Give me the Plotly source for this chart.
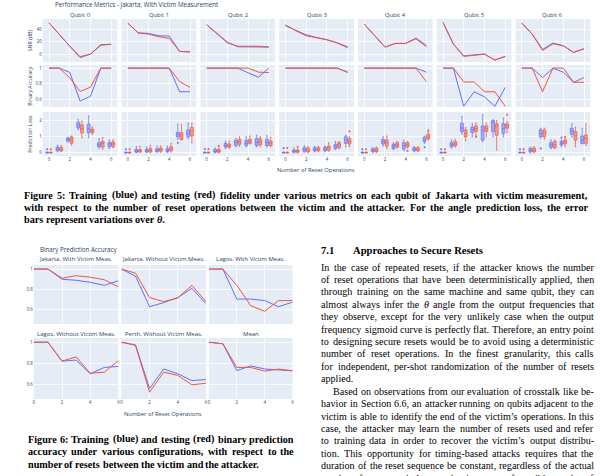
import plotly.graph_objects as go

# ---------------- DATA ----------------
resets = [0, 1, 2, 3, 4, 5, 6]
qubits = ["Qubit 0", "Qubit 1", "Qubit 2", "Qubit 3", "Qubit 4", "Qubit 5", "Qubit 6"]

snr_train = [
    [50, 31, 13, -5, 0.5, 15.5, 16],
    [49.5, 34.2, 33.2, 29.5, 29, 4.7, 4.2],
    [47, 32, 18.4, 12.8, 12.8, 13, 11.6],
    [45.3, 38.4, 31, 26.8, 23.2, 18, 10.5],
    [48, 30.5, 11.6, 17.4, 17.4, 25.8, 14.2],
    [50.5, 16.3, -2.1, -1, 0.5, -8.9, -3.2],
    [49.5, 32, 7.9, 17.9, 13.7, 3.2, 8.9],
]
snr_test = [
    [50, 31, 13, -3.5, 0.5, 14.5, 16],
    [49.5, 33.7, 32, 28, 25.3, 4.7, 3.7],
    [47, 33, 19.5, 12, 12, 12, 11.6],
    [46.8, 37.4, 29.5, 26.3, 23.2, 18.4, 12],
    [48, 30.5, 11.6, 17.4, 17.4, 24.7, 12],
    [50.5, 16.3, -3.2, -1, 0.5, -8.9, -3.2],
    [49.5, 32, 6.3, 16.8, 13.7, 3.2, 8.9],
]
acc_train = [
    [1, 1, 0.945, 0.577, 0.637, 1, 1],
    [1, 1, 1, 1, 1, 0.696, 0.696],
    [1, 1, 1, 1, 0.94, 0.883, 1],
    [1, 1, 1, 1, 1, 1, 0.95],
    [1, 1, 1, 1, 1, 1, 0.948],
    [1, 1, 0.51, 0.696, 0.63, 0.51, 0.752],
    [1, 1, 0.878, 1, 0.948, 0.817, 0.878],
]
acc_test = [
    [1, 1, 0.875, 0.70, 0.755, 1, 1],
    [1, 1, 1, 1, 1, 0.826, 0.752],
    [1, 1, 1, 1, 1, 0.948, 0.943],
    [1, 1, 1, 1, 1, 1, 0.943],
    [1, 1, 1, 1, 1, 1, 0.826],
    [1, 1, 0.822, 0.822, 0.696, 0.696, 0.51],
    [1, 1, 0.696, 1, 1, 0.817, 0.817],
]

# prediction loss box statistics (train = blue)
loss_train_q1 = [
    [0, 0.13, 0.72, 1.55, 1.25, 0.38, 0.38],
    [0, 0.04, 0.06, 0.08, 0.08, 1.0, 1.0],
    [0, 0.04, 0.36, 0.46, 0.46, 0.46, 0.46],
    [0, 0.04, 0.1, 0.13, 0.13, 0.27, 0.59],
    [0, 0.08, 0.55, 0.27, 0.23, 0.13, 0.7],
    [0, 0.38, 1.33, 1.26, 0.8, 1.33, 1.22],
    [0, 0.06, 1.0, 0.34, 0.48, 1.16, 0.59],
]
loss_train_med = [
    [0, 0.22, 0.82, 1.75, 1.5, 0.5, 0.55],
    [0, 0.1, 0.12, 0.15, 0.15, 1.15, 1.2],
    [0, 0.1, 0.45, 0.65, 0.6, 0.65, 0.65],
    [0, 0.1, 0.2, 0.22, 0.22, 0.4, 0.8],
    [0, 0.15, 0.7, 0.4, 0.45, 0.22, 0.82],
    [0, 0.5, 1.55, 1.45, 1.4, 1.9, 1.5],
    [0, 0.15, 1.2, 0.5, 0.6, 1.35, 0.8],
]
loss_train_q3 = [
    [0.03, 0.35, 0.92, 1.9, 1.8, 0.63, 0.63],
    [0.03, 0.21, 0.21, 0.25, 0.25, 1.28, 1.43],
    [0.03, 0.21, 0.59, 0.78, 0.78, 0.88, 0.84],
    [0.03, 0.17, 0.32, 0.32, 0.34, 0.53, 1.0],
    [0.03, 0.25, 0.84, 0.53, 0.63, 0.32, 0.97],
    [0.03, 0.63, 1.85, 1.6, 1.68, 2.02, 1.81],
    [0.03, 0.27, 1.43, 0.63, 0.7, 1.54, 1.05],
]
loss_train_lo = [
    [0, 0.05, 0.68, 1.45, 0.95, 0.28, 0.27],
    [0, 0, 0.02, 0.03, 0.03, 0.85, 0.88],
    [0, 0, 0.27, 0.38, 0.38, 0.38, 0.38],
    [0, 0, 0.04, 0.06, 0.06, 0.2, 0.38],
    [0, 0.02, 0.42, 0.2, 0.15, 0.06, 0.6],
    [0, 0.3, 1.18, 1.0, 0.7, 1.0, 1.0],
    [0, 0, 0.9, 0.25, 0.4, 1.0, 0.55],
]
loss_train_hi = [
    [0.05, 0.48, 0.95, 2.07, 2.3, 0.88, 0.8],
    [0.05, 0.38, 0.36, 0.42, 0.42, 1.8, 1.85],
    [0.05, 0.3, 0.72, 0.9, 1.0, 1.1, 1.07],
    [0.05, 0.3, 0.44, 0.4, 0.42, 0.7, 1.1],
    [0.05, 0.32, 1.0, 0.63, 0.8, 0.38, 1.05],
    [0.05, 0.8, 2.27, 1.81, 2.38, 2.06, 2.17],
    [0.05, 0.35, 1.54, 0.8, 0.8, 1.81, 1.54],
]
loss_train_out = [
    [[0.22], [], [], [], [], [], []],
    [[0.22], [], [], [], [], [0.63], []],
    [[0.24], [], [], [], [], [], []],
    [[0.3], [], [], [], [], [], []],
    [[0.22], [], [], [], [], [], [0.34]],
    [[0.22], [], [], [], [], [], []],
    [[0.22], [], [0.27], [], [0.95], [], []],
]

# prediction loss box statistics (test = red)
loss_test_q1 = [
    [0, 0.13, 0.6, 1.25, 1.25, 0.36, 0.4],
    [0, 0.06, 0.06, 0.1, 0.13, 0.84, 1.05],
    [0, 0.04, 0.34, 0.53, 0.59, 0.5, 0.46],
    [0, 0.04, 0.06, 0.13, 0.17, 0.32, 0.55],
    [0, 0.08, 0.42, 0.36, 0.38, 0.13, 0.88],
    [0, 0.44, 1.0, 1.33, 1.33, 1.1, 1.54],
    [0, 0.06, 1.0, 0.32, 0.55, 0.8, 0.59],
]
loss_test_med = [
    [0, 0.2, 0.82, 1.5, 1.38, 0.6, 0.55],
    [0, 0.12, 0.15, 0.2, 0.25, 1.05, 1.35],
    [0, 0.1, 0.45, 0.7, 0.7, 0.7, 0.6],
    [0, 0.1, 0.15, 0.22, 0.3, 0.5, 0.7],
    [0, 0.15, 0.62, 0.5, 0.5, 0.22, 1.0],
    [0, 0.55, 1.2, 1.5, 1.5, 1.68, 1.7],
    [0, 0.15, 1.25, 0.5, 0.68, 1.05, 0.9],
]
loss_test_q3 = [
    [0.03, 0.33, 0.98, 1.75, 1.48, 0.7, 0.67],
    [0.03, 0.19, 0.27, 0.3, 0.38, 1.26, 1.58],
    [0.03, 0.21, 0.55, 0.84, 0.84, 0.88, 0.74],
    [0.03, 0.17, 0.3, 0.32, 0.42, 0.63, 0.88],
    [0.03, 0.3, 0.8, 0.63, 0.63, 0.32, 1.16],
    [0.03, 0.7, 1.43, 1.68, 1.68, 1.81, 1.81],
    [0.03, 0.3, 1.43, 0.7, 0.8, 1.33, 1.12],
]
loss_test_lo = [
    [0, 0.08, 0.48, 0.93, 1.15, 0.23, 0.33],
    [0, 0.02, 0, 0.04, 0.06, 0.8, 0.63],
    [0, 0, 0.3, 0.4, 0.55, 0.38, 0.38],
    [0, 0, 0.02, 0.06, 0.1, 0.27, 0.4],
    [0, 0.02, 0.27, 0.3, 0.3, 0.06, 0.8],
    [0, 0.36, 0.76, 1.05, 1.0, 0.17, 1.26],
    [0, 0, 0.85, 0.25, 0.38, 0.38, 0.46],
]
loss_test_hi = [
    [0.05, 0.45, 1.05, 1.98, 1.62, 0.95, 0.8],
    [0.05, 0.42, 0.48, 0.42, 0.59, 1.77, 1.85],
    [0.05, 0.3, 0.72, 1.0, 1.05, 1.0, 0.97],
    [0.05, 0.25, 0.38, 0.4, 0.63, 0.7, 1.0],
    [0.05, 0.35, 1.05, 0.7, 0.7, 0.38, 1.3],
    [0.05, 0.84, 1.58, 1.85, 1.85, 2.02, 1.95],
    [0.05, 0.38, 1.54, 0.8, 0.9, 1.6, 1.81],
]
loss_test_out = [
    [[0.22], [], [], [], [], [], []],
    [[0.22], [], [], [], [], [], []],
    [[0.24], [0.42], [], [], [], [], []],
    [[0.3], [0.38], [], [], [], [], [1.33]],
    [[0.22], [], [], [], [0.13], [], [1.39]],
    [[0.22], [], [], [1.0], [], [], [2.38]],
    [[0.22], [], [], [], [1.0], [], []],
]

# Figure 6: binary prediction accuracy
configs = ["Jakarta, With Victim Meas.", "Jakarta, Without Victim Meas.", "Lagos, With Victim Meas.",
           "Lagos, Without Victim Meas.", "Perth, Without Victim Meas.", "Mean"]
bin_train = [
    [1, 1, 0.90, 0.89, 0.87, 0.84, 0.885],
    [1, 0.93, 0.63, 0.67, 0.72, 0.81, 0.66],
    [1, 1, 0.705, 0.705, 0.69, 0.63, 0.675],
    [1, 1, 0.82, 0.83, 0.70, 0.76, 0.77],
    [1, 0.975, 0.56, 0.745, 0.70, 0.635, 0.645],
    [1, 0.985, 0.73, 0.775, 0.745, 0.735, 0.728],
]
bin_test = [
    [1, 1, 0.91, 0.935, 0.92, 0.895, 0.825],
    [1, 0.96, 0.72, 0.68, 0.715, 0.84, 0.68],
    [1, 1, 0.84, 0.64, 0.585, 0.69, 0.69],
    [1, 1, 0.82, 0.86, 0.705, 0.715, 0.825],
    [1, 0.97, 0.525, 0.715, 0.685, 0.595, 0.61],
    [1, 0.985, 0.76, 0.76, 0.725, 0.745, 0.728],
]

# page text
cap5 = ["Figure 5: Training (blue) and testing (red) fidelity under various metrics on each qubit of Jakarta with victim measurement,",
        "with respect to the number of reset operations between the victim and the attacker. For the angle prediction loss, the error",
        "bars represent variations over θ."]
cap6 = ["Figure 6: Training (blue) and testing (red) binary prediction",
        "accuracy under various configurations, with respect to the",
        "number of resets between the victim and the attacker."]
heading_num = "7.1"
heading = "Approaches to Secure Resets"
body = [
    "In the case of repeated resets, if the attacker knows the number",
    "of reset operations that have been deterministically applied, then",
    "through training on the same machine and same qubit, they can",
    "almost always infer the θ angle from the output frequencies that",
    "they observe, except for the very unlikely case when the output",
    "frequency sigmoid curve is perfectly flat. Therefore, an entry point",
    "to designing secure resets would be to avoid using a deterministic",
    "number of reset operations. In the finest granularity, this calls",
    "for independent, per-shot randomization of the number of resets",
    "applied.",
    "Based on observations from our evaluation of crosstalk like be-",
    "havior in Section 6.6, an attacker running on qubits adjacent to the",
    "victim is able to identify the end of the victim’s operations. In this",
    "case, the attacker may learn the number of resets used and refer",
    "to training data in order to recover the victim’s output distribu-",
    "tion. This opportunity for timing-based attacks requires that the",
    "duration of the reset sequence be constant, regardless of the actual",
    "number of resets used. As a result, given a set of possible number of",
]

# ---------------- LAYOUT HELPERS ----------------
W, H = 600, 476
def px(x): return x / W
def py(y): return 1 - y / H

BLUE = '#636EFA'
RED = '#EF553B'
SANS = 'Open Sans'
SERIF = 'Liberation Serif'
TXT = '#2a3f5f'
TICK = 4.4

fig = go.Figure()
layout = {}
ann = []

def axnames(n):
    return ('xaxis' if n == 1 else f'xaxis{n}', 'yaxis' if n == 1 else f'yaxis{n}',
            'x' if n == 1 else f'x{n}', 'y' if n == 1 else f'y{n}')

def label(text, x, y, size, xanchor='center', angle=0, family=SANS, color=TXT):
    ann.append(dict(text=text, x=px(x), y=py(y), xanchor=xanchor, yanchor='middle', textangle=angle,
                    font=dict(size=size, color=color, family=family)))

# ---------------- FIGURE 5 ----------------
col_left0, col_pitch, col_w = 42, 79.2, 75
rows5 = [(19, 62), (65, 107), (112, 156)]
yranges5 = [[-12, 56], [0.5, 1.04], [-0.2, 2.55]]
ytick5 = [[0, 20, 40], [0.6, 0.8, 1], [0, 1, 2]]
ytext5 = [['0', '20', '40'], ['0.6', '0.8', '1'], ['0', '1', '2']]

n = 0
for r in range(3):
    for c in range(7):
        n += 1
        xa, ya, xid, yid = axnames(n)
        left = col_left0 + c * col_pitch
        layout[xa] = dict(domain=[px(left), px(left + col_w)], anchor=yid, range=[-0.6, 6.6],
                          tickvals=[0, 2, 4, 6], ticktext=['0', '2', '4', '6'], showticklabels=(r == 2),
                          gridcolor='white', gridwidth=0.8, zeroline=False, showline=False,
                          tickfont=dict(size=TICK, color=TXT, family=SANS), ticks='')
        layout[ya] = dict(domain=[py(rows5[r][1]), py(rows5[r][0])], anchor=xid, range=yranges5[r],
                          tickvals=ytick5[r], ticktext=ytext5[r], showticklabels=(c == 0),
                          gridcolor='white', gridwidth=0.8, zeroline=False, showline=False,
                          tickfont=dict(size=TICK, color=TXT, family=SANS), ticks='')
        if r < 2:
            tr, te = (snr_train, snr_test) if r == 0 else (acc_train, acc_test)
            fig.add_trace(go.Scatter(x=resets, y=tr[c], mode='lines', line=dict(color=BLUE, width=1),
                                     xaxis=xid, yaxis=yid, showlegend=False))
            fig.add_trace(go.Scatter(x=resets, y=te[c], mode='lines', line=dict(color=RED, width=1),
                                     xaxis=xid, yaxis=yid, showlegend=False))
        else:
            for (q1, med, q3, lo, hi, out, col, grp) in [
                (loss_train_q1, loss_train_med, loss_train_q3, loss_train_lo, loss_train_hi, loss_train_out, BLUE, 'tr'),
                (loss_test_q1, loss_test_med, loss_test_q3, loss_test_lo, loss_test_hi, loss_test_out, RED, 'te')]:
                fig.add_trace(go.Box(x=resets, y=out[c], q1=q1[c], median=med[c], q3=q3[c],
                                     lowerfence=lo[c], upperfence=hi[c], boxpoints='outliers',
                                     pointpos=0, jitter=0, whiskerwidth=0.5,
                                     marker=dict(color=col, size=2), line=dict(color=col, width=0.7),
                                     offsetgroup=grp, xaxis=xid, yaxis=yid, showlegend=False))
        if r == 0:
            label(qubits[c], left + col_w / 2, 15.5, 5.8)

label("Performance Metrics - Jakarta, With Victim Measurement", 54, 5, 6.2, xanchor='left')
for (t, yc) in [("SNR (dB)", 40.5), ("Binary Accuracy", 86), ("Prediction Loss", 134)]:
    label(t, 29, yc, 5.3, angle=-90)
label("Number of Reset Operations", 317, 170, 5.8)

# ---------------- FIGURE 6 ----------------
cols6 = [(33, 118), (121, 206), (209, 293)]
rows6 = [(265, 324), (338, 399)]
title_y6 = [259, 334]
for k in range(6):
    n += 1
    r, c = divmod(k, 3)
    xa, ya, xid, yid = axnames(n)
    layout[xa] = dict(domain=[px(cols6[c][0]), px(cols6[c][1])], anchor=yid, range=[0, 6],
                      tickvals=[0, 2, 4, 6], ticktext=['0', '2', '4', '6'], showticklabels=(r == 1),
                      gridcolor='white', gridwidth=0.8, zeroline=False, showline=False,
                      tickfont=dict(size=TICK, color=TXT, family=SANS), ticks='')
    layout[ya] = dict(domain=[py(rows6[r][1]), py(rows6[r][0])], anchor=xid, range=[0.46, 1.04],
                      tickvals=[0.6, 0.8, 1], ticktext=['0.6', '0.8', '1'], showticklabels=(c == 0),
                      gridcolor='white', gridwidth=0.8, zeroline=False, showline=False,
                      tickfont=dict(size=TICK, color=TXT, family=SANS), ticks='')
    fig.add_trace(go.Scatter(x=resets, y=bin_train[k], mode='lines', line=dict(color=BLUE, width=1),
                             xaxis=xid, yaxis=yid, showlegend=False))
    fig.add_trace(go.Scatter(x=resets, y=bin_test[k], mode='lines', line=dict(color=RED, width=1),
                             xaxis=xid, yaxis=yid, showlegend=False))
    label(configs[k], (cols6[c][0] + cols6[c][1]) / 2, title_y6[r], 6.0)

label("Binary Prediction Accuracy", 39, 249, 6.2, xanchor='left')
label("Number of Reset Operations", 163, 414, 5.8)

# ---------------- JUSTIFIED PAGE TEXT ----------------
# approximate advance widths (per 1000 em) of Times-metric serif faces
TR = dict(zip("ABCDEFGHIJKLMNOPQRSTUVWXYZ",
              [722, 667, 667, 722, 611, 556, 722, 722, 333, 389, 722, 611, 889, 722, 722, 556, 722, 667, 556, 611, 722, 722, 944, 722, 722, 611]))
TR.update(zip("abcdefghijklmnopqrstuvwxyz",
              [444, 500, 444, 500, 444, 333, 500, 500, 278, 278, 500, 278, 778, 500, 500, 500, 500, 333, 389, 278, 500, 500, 722, 500, 500, 444]))
TR.update({' ': 250, ',': 250, '.': 250, '-': 333, '(': 333, ')': 333, ':': 278, '’': 333, 'θ': 480})
TB = dict(zip("ABCDEFGHIJKLMNOPQRSTUVWXYZ",
              [722, 667, 722, 722, 667, 611, 778, 778, 389, 500, 778, 667, 944, 722, 778, 611, 778, 722, 556, 667, 722, 722, 1000, 722, 722, 667]))
TB.update(zip("abcdefghijklmnopqrstuvwxyz",
              [500, 556, 444, 556, 444, 333, 500, 556, 278, 333, 556, 278, 833, 556, 500, 556, 556, 444, 389, 333, 556, 500, 722, 500, 500, 444]))
TB.update({' ': 250, ',': 250, '.': 250, '-': 333, '(': 333, ')': 333, ':': 333, '’': 333, 'θ': 500})

def text_width(s, table, size):
    return sum(table.get(ch, 500) for ch in s) * size / 1000.0

def place_line(line, x0, L, y, size, bold, justify):
    table = TB if bold else TR
    words = line.split(' ')
    widths = [text_width(w, table, size) for w in words]
    space = 250 * size / 1000.0
    gap = (L - sum(widths)) / (len(words) - 1) if (justify and len(words) > 1) else space
    gap = max(gap, space * 0.6)
    x = x0
    for i, (w, wd) in enumerate(zip(words, widths)):
        t = w.replace('θ', '<i>θ</i>')
        if bold:
            t = '<b>' + t + '</b>'
        if justify and len(words) > 1 and i == len(words) - 1:
            label(t, x0 + L, y, size, xanchor='right', family=SERIF, color='black')
        else:
            label(t, x, y, size, xanchor='left', family=SERIF, color='black')
        x += wd + gap

cap5_y = [195, 207.3, 219.6]
for i, (t, yv) in enumerate(zip(cap5, cap5_y)):
    place_line(t, 23, 567, yv, 10.2, True, i < 2)

cap6_y = [439, 451.5, 464]
for i, (t, yv) in enumerate(zip(cap6, cap6_y)):
    place_line(t, 26.7, 268, yv, 10.2, True, i < 2)

label('<b>' + heading_num + '</b>', 322, 250, 10.6, xanchor='left', family=SERIF, color='black')
label('<b>' + heading + '</b>', 354, 250, 10.6, xanchor='left', family=SERIF, color='black')

for i, t in enumerate(body):
    indent = 12 if i == 10 else 0
    place_line(t, 322 + indent, 274 - indent, 267 + i * 12.42, 10.1, False, i != 9)

for a in ann:
    a.update(xref='paper', yref='paper', showarrow=False, borderpad=0, borderwidth=0)

fig.update_layout(**layout)
fig.update_layout(width=W, height=H, margin=dict(l=0, r=0, t=0, b=0), autosize=False,
                  paper_bgcolor='white', plot_bgcolor='#E5ECF6', boxmode='group', boxgroupgap=0.2, boxgap=0.3,
                  showlegend=False, annotations=ann, font=dict(family=SANS, color=TXT), hovermode=False)
fig.write_html("out.html", config={'displayModeBar': False, 'staticPlot': True},
               post_script="document.body.style.margin='0px';document.body.style.padding='0px';document.body.style.overflow='hidden';")
